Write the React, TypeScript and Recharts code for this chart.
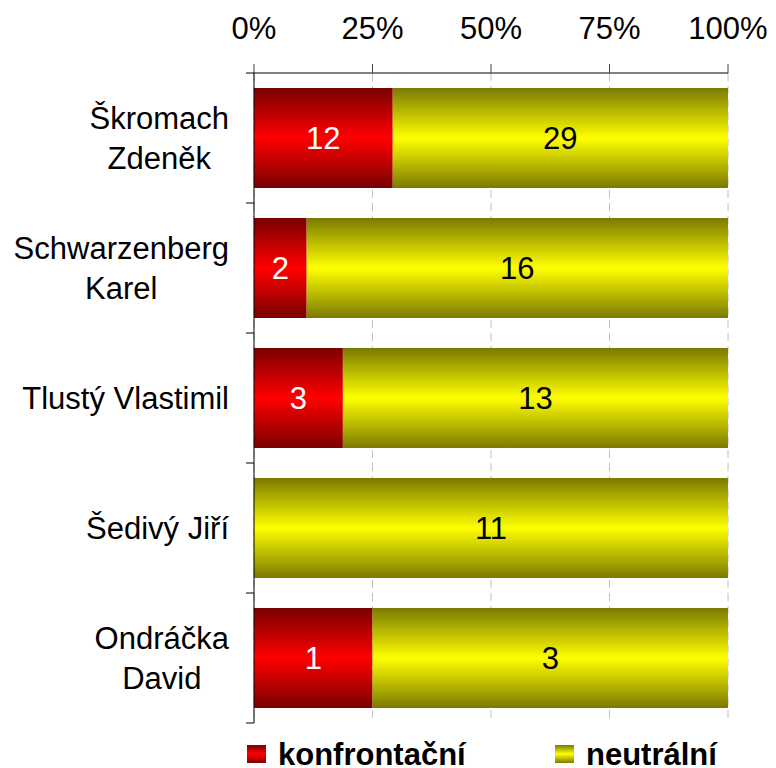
import { Bar, BarChart, CartesianGrid, LabelList, Legend, XAxis, YAxis } from "recharts";

const names = [
  "Škromach Zdeněk",
  "Schwarzenberg Karel",
  "Tlustý Vlastimil",
  "Šedivý Jiří",
  "Ondráčka David",
];
const konfrontacni = [12, 2, 3, 0, 1];
const neutralni = [29, 16, 13, 11, 3];
const pctTicks = [0, 0.25, 0.5, 0.75, 1];

const series = [
  { key: "konfrontacni", label: "konfrontační", dark: "#7a0000", light: "#ff0000", text: "#ffffff" },
  { key: "neutralni", label: "neutrální", dark: "#7a7a00", light: "#ffff00", text: "#000000" },
];

const data = names.map((name, i) => ({
  name,
  konfrontacni: konfrontacni[i],
  neutralni: neutralni[i],
}));

const FONT = "'Liberation Sans', Arial, sans-serif";
const FS = 31;
const TICK = 8;
const GAP = 17;

let ctx: CanvasRenderingContext2D | null = null;
function measure(s: string) {
  if (!ctx) ctx = document.createElement("canvas").getContext("2d");
  if (!ctx) return s.length * FS * 0.5;
  ctx.font = `${FS}px ${FONT}`;
  return ctx.measureText(s).width;
}

function wrap(s: string, max: number) {
  const lines: string[] = [];
  let cur = "";
  for (const w of s.split(" ")) {
    const next = cur ? cur + " " + w : w;
    if (cur && measure(next) > max) {
      lines.push(cur);
      cur = w;
    } else cur = next;
  }
  if (cur) lines.push(cur);
  return lines;
}

function NameTick(props: any) {
  const { x, y, payload, index, visibleTicksCount } = props;
  const lines = wrap(String(payload.value), 215);
  const maxW = Math.max(...lines.map(measure));
  const cx = x - maxW / 2;
  const half = payload.offset ?? 0;
  const axisX = x + GAP + TICK;
  return (
    <g>
      <line x1={axisX - TICK} x2={axisX} y1={y - half} y2={y - half} stroke="#000" />
      {index === visibleTicksCount - 1 && (
        <line x1={axisX - TICK} x2={axisX} y1={y + half} y2={y + half} stroke="#000" />
      )}
      {lines.map((l, i) => (
        <text
          key={i}
          x={cx}
          y={y + (i - (lines.length - 1) / 2) * 40 + FS * 0.355}
          textAnchor="middle"
          fontSize={FS}
          fontFamily={FONT}
          fill="#000"
        >
          {l}
        </text>
      ))}
    </g>
  );
}

function LegendBox() {
  const pos = [247, 555];
  return (
    <div style={{ position: "relative", width: 776, height: 40 }}>
      {series.map((s, i) => (
        <div key={s.key}>
          <div
            style={{
              position: "absolute",
              left: pos[i],
              top: 22,
              width: 19,
              height: 18,
              background: `linear-gradient(${s.dark}, ${s.light} 50%, ${s.dark})`,
            }}
          />
          <div
            style={{
              position: "absolute",
              left: pos[i] + 31,
              top: 19,
              fontFamily: FONT,
              fontSize: FS,
              fontWeight: "bold",
              lineHeight: "26px",
              color: "#000",
              whiteSpace: "nowrap",
            }}
          >
            {s.label}
          </div>
        </div>
      ))}
    </div>
  );
}

export default function App() {
  return (
    <div style={{ position: "absolute", left: 0, top: 0, background: "#fff", fontFamily: FONT }}>
      <BarChart
        width={776}
        height={768}
        data={data}
        layout="vertical"
        stackOffset="expand"
        barSize={100}
        margin={{ top: 0, right: 48, bottom: 5, left: 0 }}
      >
        <defs>
          {series.map((s) => (
            <linearGradient key={s.key} id={`g-${s.key}`} x1="0" y1="0" x2="0" y2="1">
              <stop offset="0%" stopColor={s.dark} />
              <stop offset="50%" stopColor={s.light} />
              <stop offset="100%" stopColor={s.dark} />
            </linearGradient>
          ))}
        </defs>
        <CartesianGrid horizontal={false} stroke="#c0c0c0" strokeDasharray="8 5" />
        <XAxis
          type="number"
          orientation="top"
          domain={[0, 1]}
          ticks={pctTicks}
          tickFormatter={(v) => `${Math.round(v * 100)}%`}
          height={73}
          tickSize={9}
          tickMargin={25}
          axisLine={{ stroke: "#808080", strokeWidth: 2 }}
          tickLine={{ stroke: "#404040" }}
          tick={{ fill: "#000", fontSize: FS, fontFamily: FONT }}
          interval={0}
        />
        <YAxis
          type="category"
          dataKey="name"
          width={254}
          tickSize={TICK}
          tickMargin={GAP}
          tickLine={false}
          axisLine={{ stroke: "#000" }}
          tick={<NameTick />}
          interval={0}
        />
        <Legend verticalAlign="bottom" wrapperStyle={{ left: 0, width: 776 }} content={() => <LegendBox />} />
        {series.map((s) => (
          <Bar key={s.key} dataKey={s.key} stackId="a" fill={`url(#g-${s.key})`} isAnimationActive={false}>
            <LabelList
              dataKey={s.key}
              position="center"
              fill={s.text}
              fontSize={FS}
              fontFamily={FONT}
              formatter={(v: any) => (v ? v : "")}
            />
          </Bar>
        ))}
      </BarChart>
    </div>
  );
}
